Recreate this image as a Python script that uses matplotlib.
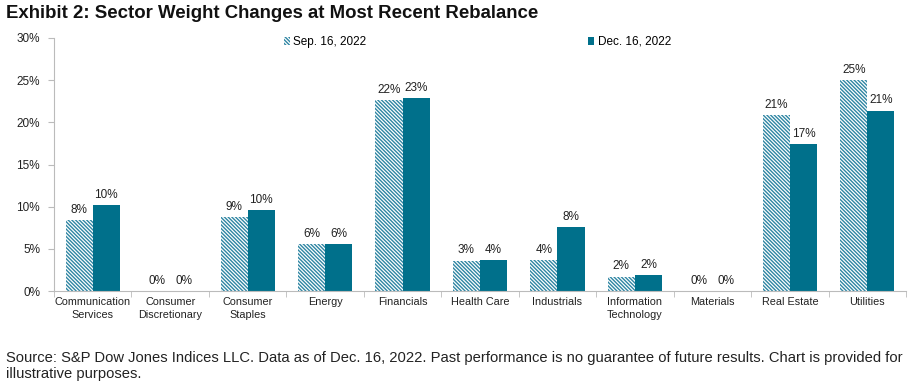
import matplotlib
matplotlib.use("Agg")
import matplotlib.pyplot as plt
import numpy as np

categories = ["Communication\nServices", "Consumer\nDiscretionary", "Consumer\nStaples", "Energy",
              "Financials", "Health Care", "Industrials", "Information\nTechnology", "Materials",
              "Real Estate", "Utilities"]
sep_vals = [8.4, 0.0, 8.8, 5.6, 22.6, 3.6, 3.7, 1.7, 0.0, 20.9, 25.0]
dec_vals = [10.2, 0.0, 9.6, 5.6, 22.9, 3.7, 7.6, 1.9, 0.0, 17.4, 21.4]
sep_labels = ["8%", "0%", "9%", "6%", "22%", "3%", "4%", "2%", "0%", "21%", "25%"]
dec_labels = ["10%", "0%", "10%", "6%", "23%", "4%", "8%", "2%", "0%", "17%", "21%"]
series_names = ["Sep. 16, 2022", "Dec. 16, 2022"]
yticks = [0, 5, 10, 15, 20, 25, 30]

plt.rcParams['font.family'] = ['Liberation Sans', 'DejaVu Sans']
plt.rcParams['hatch.linewidth'] = 1.0

fig = plt.figure(figsize=(9.24, 3.9), dpi=100)
ax = fig.add_axes([54/924, 1-291/390, (906-54)/924, (291-38)/390])

x = np.arange(len(categories))
w = 0.35
hatch_col = "#2f86a3"
dark = "#00708b"
b1 = ax.bar(x - w/2, sep_vals, w, color="white", edgecolor=hatch_col, hatch="\\" * 9, linewidth=0,
            label=series_names[0])
b2 = ax.bar(x + w/2, dec_vals, w, color=dark, linewidth=0, label=series_names[1])

for xi, v, lab in zip(x - w/2, sep_vals, sep_labels):
    ax.text(xi, v + 0.5, lab, ha="center", va="bottom", fontsize=8.5, color="#222222")
for xi, v, lab in zip(x + w/2, dec_vals, dec_labels):
    ax.text(xi, v + 0.5, lab, ha="center", va="bottom", fontsize=8.5, color="#222222")

ax.set_xlim(-0.5, len(categories) - 0.5)
ax.set_ylim(0, 30)
ax.set_yticks(yticks)
ax.set_yticklabels([f"{t}%" for t in yticks], fontsize=8.5, color="#222222")
ax.set_xticks(x)
ax.set_xticklabels(categories, fontsize=7.8, color="#222222", linespacing=1.45)
ax.set_xticks(np.arange(-0.5, len(categories), 1), minor=True)
ax.tick_params(axis="x", which="major", length=0, pad=4)
ax.tick_params(axis="x", which="minor", length=4, color="#bbbbbb")
ax.tick_params(axis="y", length=4, color="#bbbbbb", pad=6)
for s in ["top", "right"]:
    ax.spines[s].set_visible(False)
ax.spines["left"].set_color("#bbbbbb")
ax.spines["bottom"].set_color("#bbbbbb")

leg = ax.legend(handles=[b1, b2], loc="upper center", bbox_to_anchor=(0.497, 1.05), ncol=2,
                frameon=False, fontsize=8.5, columnspacing=18.8, handlelength=0.5, handleheight=0.7,
                handletextpad=0.3)

fig.text(6/924, 1-13/390, "Exhibit 2: Sector Weight Changes at Most Recent Rebalance",
         fontsize=13.4, fontweight="bold", va="center", ha="left", color="#111111")
fig.text(6/924, 1-366/390,
         "Source: S&P Dow Jones Indices LLC. Data as of Dec. 16, 2022. Past performance is no guarantee of future results. Chart is provided for\nillustrative purposes.",
         fontsize=10.65, va="center", ha="left", color="#222222", linespacing=1.15)

fig.savefig("out.png", dpi=100)
